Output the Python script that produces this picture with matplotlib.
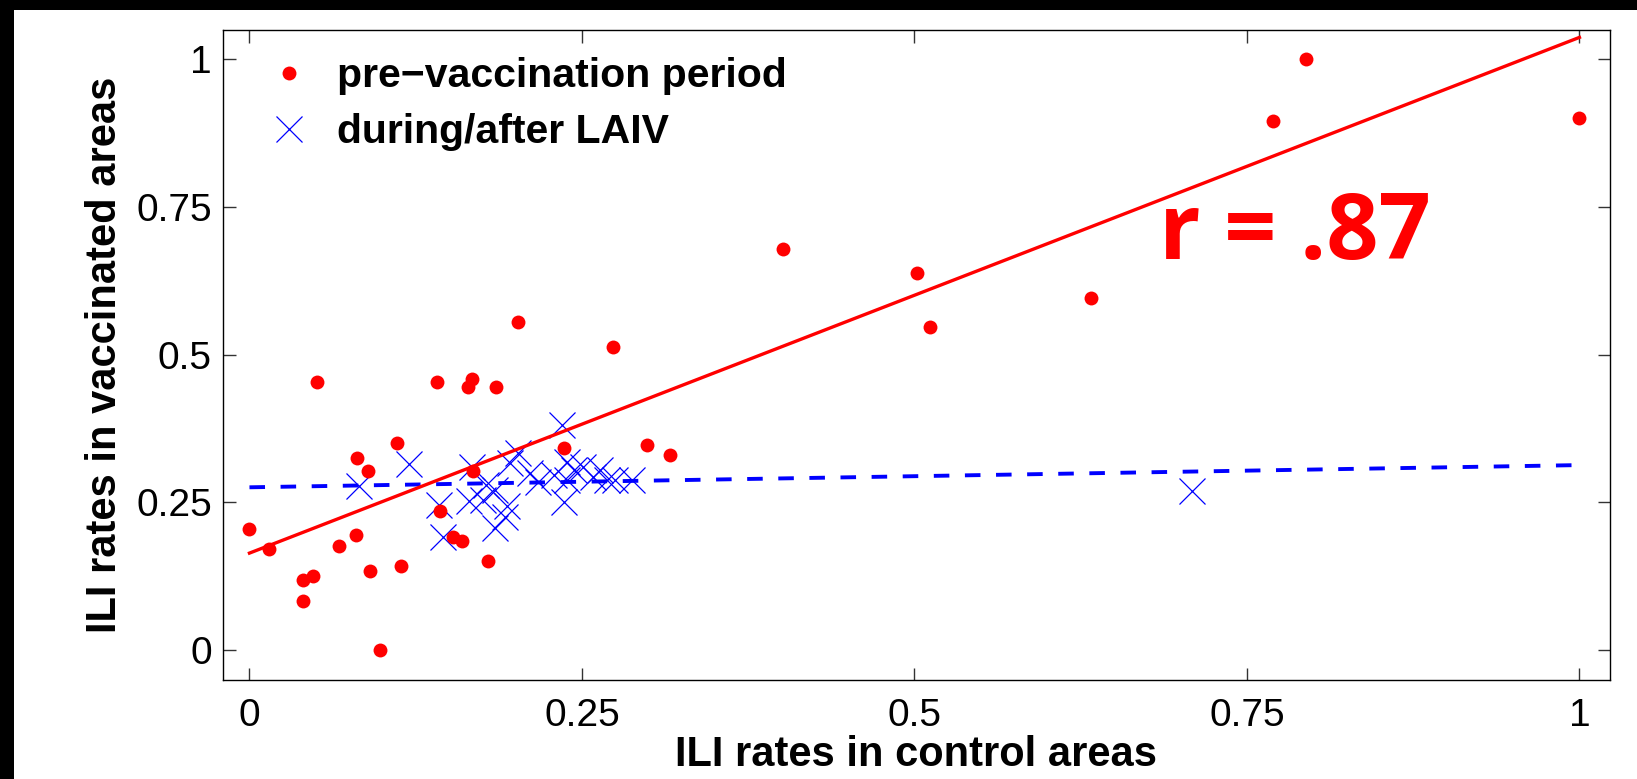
import numpy as np
import matplotlib
matplotlib.use('Agg')
from matplotlib import pyplot as plt
from matplotlib.patches import Rectangle

# pre-vaccination period (red dots)
pre_x = [0.000, 0.015, 0.0405, 0.048, 0.0405, 0.051, 0.067, 0.080, 0.081, 0.089,
         0.091, 0.098, 0.111, 0.114, 0.141, 0.143, 0.153, 0.160, 0.168, 0.1645,
         0.1675, 0.185, 0.179, 0.2016, 0.2735, 0.2367, 0.2986, 0.3162, 0.401, 0.502,
         0.512, 0.6325, 0.7946, 0.7696, 1.000]
pre_y = [0.205, 0.171, 0.1185, 0.126, 0.083, 0.454, 0.176, 0.194, 0.3245, 0.3036,
         0.1337, 0.000, 0.350, 0.1427, 0.454, 0.2353, 0.192, 0.185, 0.3036, 0.4447,
         0.458, 0.4458, 0.151, 0.5547, 0.5135, 0.3425, 0.347, 0.330, 0.679, 0.638,
         0.546, 0.5954, 1.000, 0.8955, 0.901]

# during/after LAIV (blue crosses)
laiv_x = [0.0826, 0.1202, 0.1427, 0.1452, 0.1670, 0.1653, 0.1758, 0.1780, 0.1846, 0.1934,
          0.1846, 0.1920, 0.2016, 0.1959, 0.2172, 0.2110, 0.2347, 0.2367, 0.2390, 0.2390,
          0.2440, 0.2510, 0.2585, 0.2635, 0.2686, 0.2748, 0.2874, 0.2290, 0.7087]
laiv_y = [0.2776, 0.3149, 0.2455, 0.1908, 0.3090, 0.2528, 0.2540, 0.2790, 0.2709, 0.2438,
          0.2060, 0.2257, 0.3340, 0.3160, 0.2850, 0.2990, 0.3810, 0.2510, 0.3188, 0.2880,
          0.3050, 0.3100, 0.2934, 0.3047, 0.2878, 0.2878, 0.2878, 0.2960, 0.2692]

# fitted lines
fit_x = [0.0, 1.0]
pre_fit_y = [0.164, 1.037]
laiv_fit_y = [0.2754, 0.313]

r_text = 'r = .87'

fig = plt.figure(figsize=(16.37, 7.79), dpi=100, facecolor='black')
# white page with the black screenshot border on top/left
fig.patches.append(Rectangle((14 / 1637, 0), 1, (779 - 10) / 779,
                             transform=fig.transFigure, facecolor='white',
                             edgecolor='none', zorder=-10))

ax = fig.add_axes([223 / 1637, 1 - 680 / 779, 1386.5 / 1637, 649.7 / 779])

blue_pts, = ax.plot(laiv_x, laiv_y, 'x', color='blue', markersize=19,
                    markeredgewidth=0.9, label='during/after LAIV', zorder=2)
ax.plot(fit_x, laiv_fit_y, '--', color='blue', linewidth=2.8,
        dashes=(4.0, 4.0), zorder=3)
red_pts, = ax.plot(pre_x, pre_y, 'o', color='red', markersize=10,
                   markeredgewidth=0, label='pre\u2212vaccination period', zorder=4)
ax.plot(fit_x, pre_fit_y, '-', color='red', linewidth=2.4, zorder=5)

ax.text(0.684, 0.662, r_text, color='red', fontsize=66, fontweight='bold',
        family='Open Sans', ha='left', va='baseline')

ax.set_xlim(-0.0199, 1.0226)
ax.set_ylim(-0.0508, 1.049)
ticks = [0, 0.25, 0.5, 0.75, 1]
tick_labels = ['0', '0.25', '0.5', '0.75', '1']
ax.set_xticks(ticks)
ax.set_xticklabels(tick_labels)
ax.set_yticks(ticks)
ax.set_yticklabels(tick_labels)

for lab in ax.get_xticklabels() + ax.get_yticklabels():
    lab.set_family('Liberation Sans')
    lab.set_fontsize(28)
ax.tick_params(axis='both', direction='in', length=9, width=1.0,
               top=True, right=True, color='#333333')
ax.tick_params(axis='x', pad=13)
ax.tick_params(axis='y', pad=8)
for sp in ax.spines.values():
    sp.set_linewidth(1.0)

ax.set_xlabel('ILI rates in control areas', fontsize=30, fontweight='bold',
              family='Liberation Sans', labelpad=1)
ax.set_ylabel('ILI rates in vaccinated areas', fontsize=30, fontweight='bold',
              family='Liberation Sans', labelpad=8)

leg = ax.legend(handles=[red_pts, blue_pts], loc='upper left',
                bbox_to_anchor=(0.0346, 0.959), frameon=False, numpoints=1,
                handlelength=0.9, handletextpad=0.72, labelspacing=0.45,
                borderaxespad=0, borderpad=0,
                prop={'family': 'Liberation Sans', 'weight': 'bold', 'size': 29.5})

fig.savefig('out.png', dpi=100, facecolor=fig.get_facecolor())
